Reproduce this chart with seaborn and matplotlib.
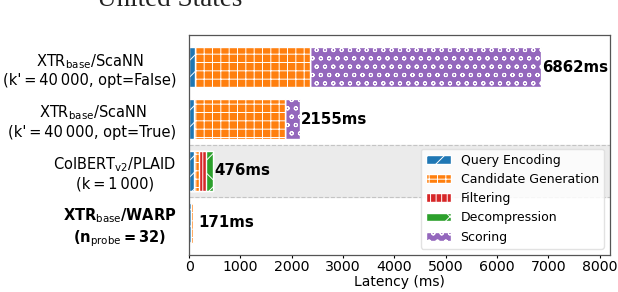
import numpy as np
import pandas as pd
import seaborn as sns
import matplotlib.pyplot as plt
from matplotlib.patches import Patch

# data (ms)
systems = [
    "XTR$_{\\rm base}$/ScaNN\n(k'\u2009=\u200940\u2009000, opt=False)",
    "XTR$_{\\rm base}$/ScaNN\n(k'\u2009=\u200940\u2009000, opt=True)",
    "ColBERT$_{\\rm v2}$/PLAID\n(k\u2009=\u20091\u2009000)",
    "XTR$_{\\rm base}$/WARP\n(n$_{\\rm probe}$\u2009=\u200932)",
]
stages = ["Query Encoding", "Candidate Generation", "Filtering", "Decompression", "Scoring"]
query_encoding = [120, 100, 100, 45]
candidate_generation = [2230, 1760, 100, 30]
filtering = [0, 0, 120, 0]
decompression = [0, 0, 150, 0]
scoring = [4512, 295, 0, 0]
totals = [6862, 2155, 476, 171]

colors = ["#1f77b4", "#ff7f0e", "#d62728", "#2ca02c", "#9467bd"]
hatches = ["//", "++", "|||", "x", "oo"]

df = pd.DataFrame({
    "system": systems,
    "Query Encoding": query_encoding,
    "Candidate Generation": candidate_generation,
    "Filtering": filtering,
    "Decompression": decompression,
    "Scoring": scoring,
})
cum = df[stages].cumsum(axis=1)

plt.rcParams["hatch.linewidth"] = 0.7
fig = plt.figure(figsize=(6.18, 2.92), dpi=100)
ax = fig.add_axes([0.306, 0.127, 0.681, 0.753])

# highlight band for the PLAID row
ax.axhspan(1.5, 2.5, color="#ebebeb", zorder=0)
for yy in (1.5, 2.5):
    ax.axhline(yy, color="#c4c4c4", ls="--", lw=0.8, zorder=0.5)

# stacked bars: draw cumulative sums from the last stage to the first
for i in range(len(stages) - 1, -1, -1):
    st = stages[i]
    sns.barplot(x=cum[st], y=df["system"], orient="h", color=colors[i],
                saturation=1, hatch=hatches[i], edgecolor="white",
                linewidth=1, width=0.77, ax=ax, zorder=2)

for i, t in enumerate(totals):
    ax.text(t + 15, i, f"{t}ms", va="center", ha="left",
            fontsize=10.8, fontweight="bold", zorder=3)

ax.set_xlim(0, 8200)
ax.set_ylim(3.62, -0.62)
ax.set_xticks(range(0, 8001, 1000))
ax.set_xlabel("Latency (ms)", fontsize=10, labelpad=1)
ax.set_ylabel("")
ax.tick_params(axis="x", labelsize=10.2, length=2, pad=1.5)
ax.tick_params(axis="y", labelsize=10.5, length=0, pad=9)
for lab in ax.get_yticklabels():
    lab.set_multialignment("center")
ax.get_yticklabels()[3].set_fontweight("bold")
for s in ax.spines.values():
    s.set_color("#555555")
    s.set_linewidth(0.9)

handles = [Patch(facecolor=colors[i], hatch=hatches[i], edgecolor="white",
                 label=stages[i]) for i in range(len(stages))]
ax.legend(handles=handles, loc="lower right", fontsize=9, framealpha=0.85,
          edgecolor="#dddddd", handlelength=2.0, borderpad=0.4,
          labelspacing=0.5, fancybox=True)

# clipped heading from the page above the figure
fig.text(97 / 618, 1 - 6 / 292, "United States", family="Liberation Serif",
         fontsize=19.5, va="baseline", ha="left", color="#222222")

fig.savefig("out.png", dpi=100)
